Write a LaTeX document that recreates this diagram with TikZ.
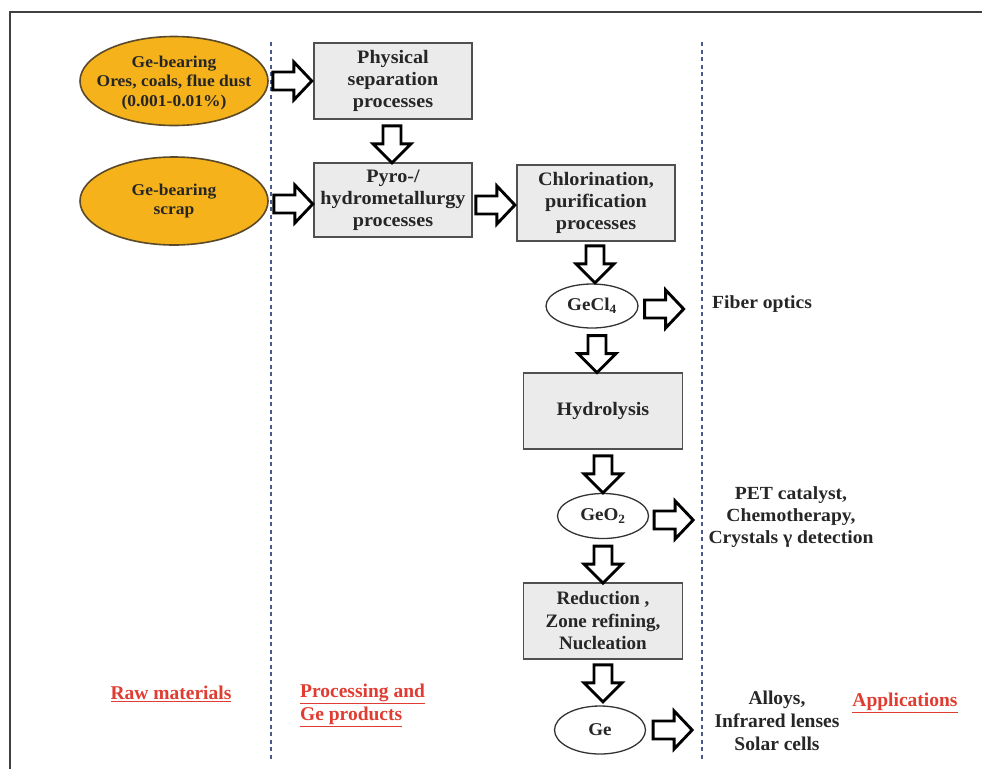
\documentclass[tikz,border=0pt]{standalone}
\usepackage{fontspec}
\setmainfont{Liberation Serif}
\newfontfamily\widefont{Liberation Serif}[FakeStretch=1.06]
\usetikzlibrary{calc,shapes.geometric}
\definecolor{oreorange}{HTML}{F6B21A}
\definecolor{oreedge}{HTML}{5A4A2A}
\definecolor{boxgray}{HTML}{EBEBEB}
\definecolor{boxedge}{HTML}{505050}
\definecolor{labred}{HTML}{E03C31}
\definecolor{dashblue}{HTML}{4A5A8A}
\tikzset{
  ore/.style={ellipse,draw=oreedge,line width=1.6pt,fill=oreorange,inner sep=0pt,
    minimum width=188pt,minimum height=89pt},
  oretext/.style={align=center,inner sep=0pt,
    font=\widefont\bfseries\fontsize{16.5}{19.5}\selectfont,text=black!85},
  procbox/.style={rectangle,draw=boxedge,line width=1.8pt,fill=boxgray,inner sep=0pt,
    minimum width=158pt,minimum height=76pt,align=center,
    font=\widefont\bfseries\fontsize{19}{22}\selectfont,text=black!85},
  condbox/.style={procbox,font=\bfseries\fontsize{19}{22.5}\selectfont},
  prod/.style={ellipse,draw=black!80,line width=1.3pt,fill=white,inner sep=0pt,
    minimum width=91pt,minimum height=45pt,align=center,
    font=\widefont\bfseries\fontsize{18}{21}\selectfont,text=black!85},
  apptext/.style={align=center,inner sep=0pt,
    font=\widefont\bfseries\fontsize{18.5}{22}\selectfont,text=black!85},
  condtext/.style={align=center,inner sep=0pt,
    font=\bfseries\fontsize{19.5}{23}\selectfont,text=black!85},
  redlab/.style={inner sep=0pt,font=\bfseries\fontsize{19.5}{23}\selectfont,text=labred},
  blk/.style={draw=black,line width=2.9pt,fill=white,line join=miter},
  rarr/.pic={\draw[blk] (0,-9) -- (21,-9) -- (21,-19) -- (39,0) -- (21,19) -- (21,9) -- (0,9) -- cycle;},
  darr/.pic={\draw[blk] (-9,0) -- (-9,18) -- (-19,18) -- (0,37) -- (19,18) -- (9,18) -- (9,0) -- cycle;},
  sep/.style={draw=dashblue,line width=1.2pt,dash pattern=on 4pt off 3.5pt}
}
\begin{document}
\begin{tikzpicture}[x=1pt,y=-1pt]
\useasboundingbox (0,0) rectangle (982,769);
% frame
\draw[line width=2pt,draw=black!75] (10,769) -- (10,12) -- (982,12);
% separators
\coordinate (s1t) at (271,42); \coordinate (s1b) at (271,760);
\coordinate (s2t) at (702,42); \coordinate (s2b) at (702,760);
\draw[sep] (s1t) -- (s1b);
\draw[sep] (s2t) -- (s2b);
% raw materials
\node[ore] (e1) at (174,81) {};
\node[oretext] (e1t) at ($(e1.center)+(0,2)$) {Ge-bearing\\Ores, coals, flue dust\\(0.001-0.01\%)};
\node[ore,minimum height=88pt] (e2) at (174,201) {};
\node[oretext] (e2t) at (e2.center) {Ge-bearing\\scrap};
% processing
\node[procbox] (phys) at (393,81) {Physical\\separation\\processes};
\node[procbox,minimum height=74pt] (pyro) at (393,200) {Pyro-/\\hydrometallurgy\\processes};
\node[procbox] (chlor) at (596,203) {Chlorination,\\purification\\processes};
\node[prod,minimum width=92pt,minimum height=44pt] (gecl) at (592,306) {GeCl\textsubscript{4}};
\node[procbox,minimum width=159pt] (hydro) at (603,411) {Hydrolysis};
\node[prod] (geo) at (603,516) {GeO\textsubscript{2}};
\node[condbox,minimum width=159pt] (red) at (603,621) {Reduction ,\\Zone refining,\\Nucleation};
\node[prod,minimum height=48pt] (ge) at (600,730) {Ge};
% block arrows
\pic at ($(e1.east)+(4,0)$) {rarr};
\pic at ($(e2.east)+(5,3)$) {rarr};
\pic at ($(phys.south)+(-1,6)$) {darr};
\pic at ($(pyro.east)+(3,5)$) {rarr};
\pic at ($(chlor.south)+(-1,4)$) {darr};
\pic at ($(gecl.east)+(6,3)$) {rarr};
\pic at ($(gecl.south)+(5,7)$) {darr};
\pic at ($(hydro.south)+(0,6)$) {darr};
\pic at ($(geo.east)+(5,4)$) {rarr};
\pic at ($(geo.south)+(0,7)$) {darr};
\pic at ($(red.south)+(0,5)$) {darr};
\pic at ($(ge.east)+(7,0)$) {rarr};
% applications
\node[apptext,anchor=west] (fib) at (712,304) {Fiber optics};
\node[apptext] (pet) at (791,517) {PET catalyst,\\Chemotherapy,\\Crystals γ detection};
\node[condtext] (alloy) at (777,721) {Alloys,\\Infrared lenses\\Solar cells};
% section labels
\node[redlab] (raw) at (171,694) {\underline{Raw materials}};
\node[redlab,anchor=west,align=left] (proc) at (300,705) {\underline{Processing and}\\\underline{Ge products}};
\node[redlab] (app) at (905,703) {\underline{Applications}};
\end{tikzpicture}
\end{document}
